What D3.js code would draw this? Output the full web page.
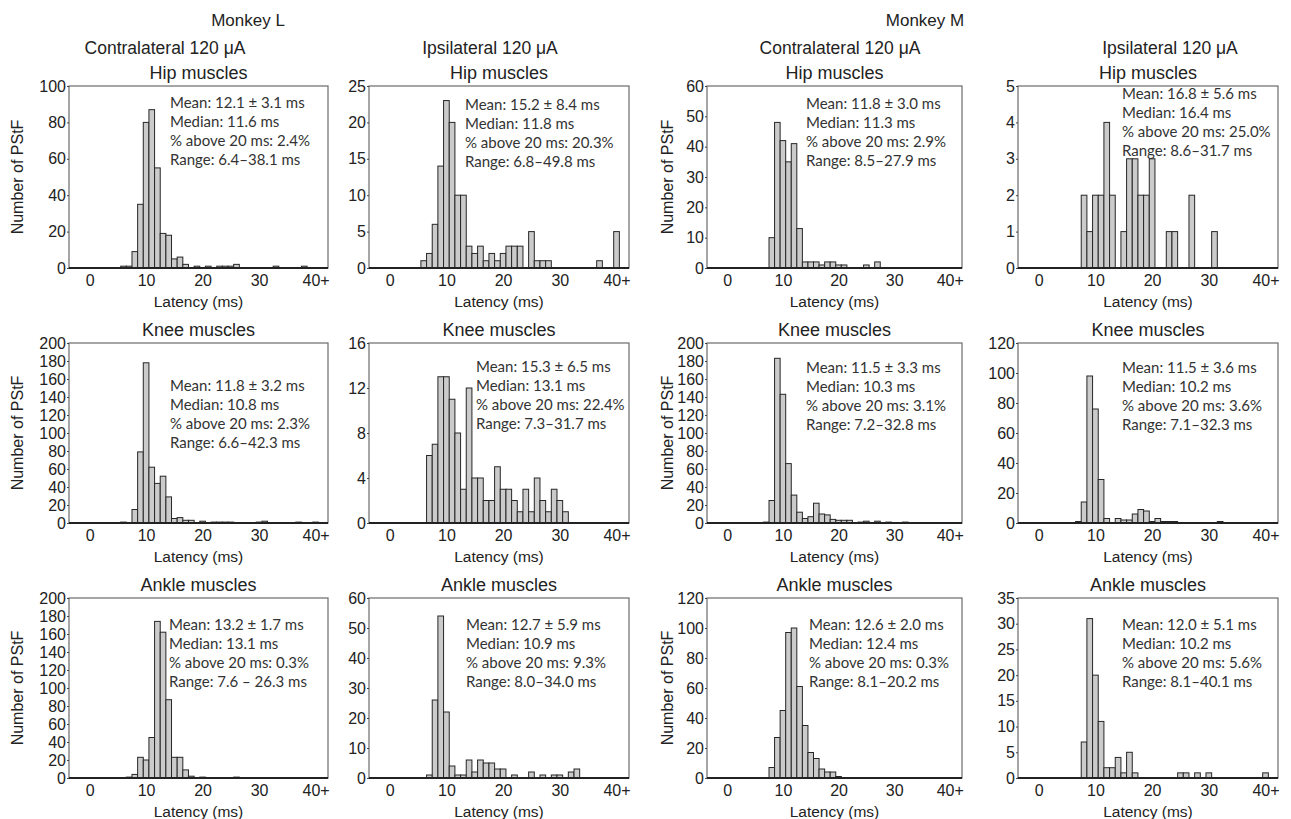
<!DOCTYPE html>
<html lang="en">
<head>
<meta charset="UTF-8">
<script src="https://d3js.org/d3.v7.min.js"></script>
<style>
    body{
        margin:0;
        background:#fff;
        font-family:"Liberation Sans", Arial, sans-serif;
    }
    .bar{
        fill:#cbcbcb;
        stroke:#262626;
        stroke-width:1;
    }
    .frame{
        fill:none;
        stroke:#6b6b6b;
        stroke-width:1.2;
    }
    .base{
        stroke:#222;
        stroke-width:2;
    }
    .tick text{
        font-family:"Liberation Sans", Arial, sans-serif;
        font-size:16px;
        fill:#222;
    }
    .tick line{ stroke:#444; }
    .stat{
        font-family:Lato, sans-serif;
        font-size:15px;
        fill:#333;
    }
</style>
</head>
<body>
<svg id="chart" width="1291" height="819"></svg>
<script>
    // one count per 1 ms latency bin, bins 0..39 then "40+"
    var hipContraL = [
        0, 0, 0, 0, 0, 0, 1, 1, 9, 35,
        80, 87, 55, 19, 18, 5, 6, 2, 0, 1,
        0, 1, 0, 1, 1, 1, 2, 0, 0, 0,
        0, 0, 0, 1, 0, 0, 0, 0, 1, 0,
        0];
    var hipIpsiL = [
        0, 0, 0, 0, 0, 0, 1, 2, 6, 14,
        23, 20, 10, 10, 3, 2, 3, 1, 2, 1,
        2, 3, 3, 3, 0, 5, 1, 1, 1, 0,
        0, 0, 0, 0, 0, 0, 0, 1, 0, 0,
        5];
    var hipContraM = [
        0, 0, 0, 0, 0, 0, 0, 0, 10, 48,
        42, 35, 41, 13, 2, 2, 2, 1, 2, 2,
        1, 1, 0, 0, 0, 1, 0, 2, 0, 0,
        0, 0, 0, 0, 0, 0, 0, 0, 0, 0,
        0];
    var hipIpsiM = [
        0, 0, 0, 0, 0, 0, 0, 0, 2, 1,
        2, 2, 4, 2, 0, 1, 3, 3, 2, 2,
        3, 0, 0, 1, 1, 0, 0, 2, 0, 0,
        0, 1, 0, 0, 0, 0, 0, 0, 0, 0,
        0];
    var kneeContraL = [
        0, 0, 0, 0, 0, 0, 1, 0, 15, 79,
        178, 62, 44, 52, 29, 5, 6, 3, 3, 0,
        2, 0, 1, 1, 1, 1, 0, 0, 0, 0,
        1, 2, 0, 0, 0, 0, 0, 1, 0, 0,
        1];
    var kneeIpsiL = [
        0, 0, 0, 0, 0, 0, 0, 6, 7, 13,
        13, 11, 8, 3, 12, 4, 4, 2, 2, 5,
        3, 3, 2, 1, 3, 1, 4, 2, 1, 3,
        2, 1, 0, 0, 0, 0, 0, 0, 0, 0,
        0];
    var kneeContraM = [
        0, 0, 0, 0, 0, 0, 0, 1, 25, 183,
        143, 66, 31, 12, 5, 7, 22, 10, 9, 4,
        3, 3, 3, 0, 1, 2, 0, 2, 0, 1,
        0, 0, 1, 0, 0, 0, 0, 0, 0, 0,
        0];
    var kneeIpsiM = [
        0, 0, 0, 0, 0, 0, 0, 1, 14, 98,
        76, 29, 3, 0, 3, 2, 2, 6, 9, 8,
        1, 3, 1, 1, 1, 0, 0, 0, 0, 0,
        0, 0, 1, 0, 0, 0, 0, 0, 0, 0,
        0];
    var ankleContraL = [
        0, 0, 0, 0, 0, 0, 0, 1, 4, 23,
        20, 45, 174, 162, 87, 23, 23, 9, 2, 0,
        1, 0, 0, 0, 0, 0, 1, 0, 0, 0,
        0, 0, 0, 0, 0, 0, 0, 0, 0, 0,
        0];
    var ankleIpsiL = [
        0, 0, 0, 0, 0, 0, 0, 1, 26, 54,
        22, 4, 1, 1, 6, 2, 6, 5, 5, 3,
        3, 0, 1, 0, 0, 2, 0, 1, 0, 1,
        1, 0, 2, 3, 0, 0, 0, 0, 0, 0,
        0];
    var ankleContraM = [
        0, 0, 0, 0, 0, 0, 0, 0, 7, 27,
        45, 97, 100, 61, 35, 17, 13, 6, 4, 4,
        1, 0, 0, 0, 0, 0, 0, 0, 0, 0,
        0, 0, 0, 0, 0, 0, 0, 0, 0, 0,
        0];
    var ankleIpsiM = [
        0, 0, 0, 0, 0, 0, 0, 0, 7, 31,
        20, 11, 2, 2, 4, 1, 5, 1, 0, 0,
        0, 0, 0, 0, 0, 1, 1, 0, 1, 0,
        1, 0, 0, 0, 0, 0, 0, 0, 0, 0,
        1];

    var monkeys = ["Monkey L", "Monkey M"];
    var conditions = ["Contralateral 120 μA", "Ipsilateral 120 μA", "Contralateral 120 μA", "Ipsilateral 120 μA"];
    var muscles = ["Hip muscles", "Knee muscles", "Ankle muscles"];
    var xTicks = [0, 10, 20, 30, 40];
    var xTickLabels = ["0", "10", "20", "30", "40+"];

    // panels row by row: L contra, L ipsi, M contra, M ipsi
    var counts = [hipContraL, hipIpsiL, hipContraM, hipIpsiM,
                  kneeContraL, kneeIpsiL, kneeContraM, kneeIpsiM,
                  ankleContraL, ankleIpsiL, ankleContraM, ankleIpsiM];
    var yMax  = [100, 25, 60, 5,   200, 16, 200, 120,   200, 60, 120, 35];
    var yStep = [20, 5, 10, 1,     20, 4, 20, 20,       20, 10, 20, 5];

    var means   = ["12.1 ± 3.1", "15.2 ± 8.4", "11.8 ± 3.0", "16.8 ± 5.6",
                   "11.8 ± 3.2", "15.3 ± 6.5", "11.5 ± 3.3", "11.5 ± 3.6",
                   "13.2 ± 1.7", "12.7 ± 5.9", "12.6 ± 2.0", "12.0 ± 5.1"];
    var medians = ["11.6", "11.8", "11.3", "16.4",
                   "10.8", "13.1", "10.3", "10.2",
                   "13.1", "10.9", "12.4", "10.2"];
    var above20 = ["2.4", "20.3", "2.9", "25.0",
                   "2.3", "22.4", "3.1", "3.6",
                   "0.3", "9.3", "0.3", "5.6"];
    var ranges  = ["6.4–38.1", "6.8–49.8", "8.5–27.9", "8.6–31.7",
                   "6.6–42.3", "7.3–31.7", "7.2–32.8", "7.1–32.3",
                   "7.6 – 26.3", "8.0–34.0", "8.1–20.2", "8.1–40.1"];

    // layout
    var colLeft = [69, 369, 707, 1018];
    var colWidth = [259, 260, 255, 260];
    var rowTop = [86, 343, 598];
    var rowHeight = [182, 180, 180];
    var statX = [101, 96, 99, 104,  101, 107, 99, 104,  100, 97, 102, 104];
    var statY = [17, 19, 18, 8,      43, 24, 25, 25,      27, 27, 27, 27];
    var monkeyX = [248, 925];
    var condX = [165, 490, 840, 1170];

    var svg = d3.select("#chart");

    monkeys.forEach(function(m, i) {
        svg.append("text")
            .attr("x", monkeyX[i]).attr("y", 26)
            .attr("text-anchor", "middle")
            .style("font-size", "17px").style("fill", "#222")
            .text(m);
    });
    conditions.forEach(function(c, i) {
        svg.append("text")
            .attr("x", condX[i]).attr("y", 54)
            .attr("text-anchor", "middle")
            .style("font-size", "17.5px").style("fill", "#222")
            .text(c);
    });

    counts.forEach(function(data, idx) {
        var r = Math.floor(idx / 4), c = idx % 4;
        var w = colWidth[c], h = rowHeight[r];

        var x = d3.scaleLinear().domain([-3.65, 42.2]).range([0, w]);
        var y = d3.scaleLinear().domain([0, yMax[idx]]).range([h, 0]);

        var g = svg.append("g")
            .attr("transform", "translate(" + colLeft[c] + "," + rowTop[r] + ")");

        var bins = data.map(function(n, k) { return {k: k, n: n}; })
            .filter(function(d) { return d.n > 0; });

        g.selectAll(".bar")
            .data(bins)
            .enter().append("rect")
            .attr("class", "bar")
            .attr("x", function(d) { return x(d.k - 0.5); })
            .attr("width", x(1) - x(0))
            .attr("y", function(d) { return y(d.n); })
            .attr("height", function(d) { return h - y(d.n); });

        g.append("rect")
            .attr("class", "frame")
            .attr("width", w).attr("height", h);

        g.append("line")
            .attr("class", "base")
            .attr("x1", 0).attr("x2", w)
            .attr("y1", h).attr("y2", h);

        var yAxis = g.append("g")
            .call(d3.axisLeft(y)
                .tickValues(d3.range(0, yMax[idx] + yStep[idx] / 2, yStep[idx]))
                .tickFormat(d3.format("d"))
                .tickSize(2).tickPadding(1));
        yAxis.select(".domain").remove();

        var xAxis = g.append("g")
            .attr("transform", "translate(0," + h + ")")
            .call(d3.axisBottom(x)
                .tickValues(xTicks)
                .tickFormat(function(d, i) { return xTickLabels[i]; })
                .tickSize(0).tickPadding(7));
        xAxis.select(".domain").remove();

        g.append("text")
            .attr("x", w / 2).attr("y", -7)
            .attr("text-anchor", "middle")
            .style("font-size", "18px").style("fill", "#222")
            .text(muscles[r]);

        g.append("text")
            .attr("x", w / 2).attr("y", h + 39)
            .attr("text-anchor", "middle")
            .style("font-size", "15.5px").style("fill", "#222")
            .text("Latency (ms)");

        if (c === 0 || c === 2) {
            g.append("text")
                .attr("transform", "translate(" + (c === 0 ? -46 : -34) + "," + (h / 2) + ") rotate(-90)")
                .attr("text-anchor", "middle")
                .style("font-size", "16px").style("fill", "#222")
                .text("Number of PStF");
        }

        var lines = ["Mean: " + means[idx] + " ms",
                     "Median: " + medians[idx] + " ms",
                     "% above 20 ms: " + above20[idx] + "%",
                     "Range: " + ranges[idx] + " ms"];
        g.selectAll(".stat")
            .data(lines)
            .enter().append("text")
            .attr("class", "stat")
            .attr("x", statX[idx])
            .attr("y", function(d, i) { return statY[idx] + 5 + i * 19; })
            .text(function(d) { return d; });
    });
</script>
</body>
</html>
